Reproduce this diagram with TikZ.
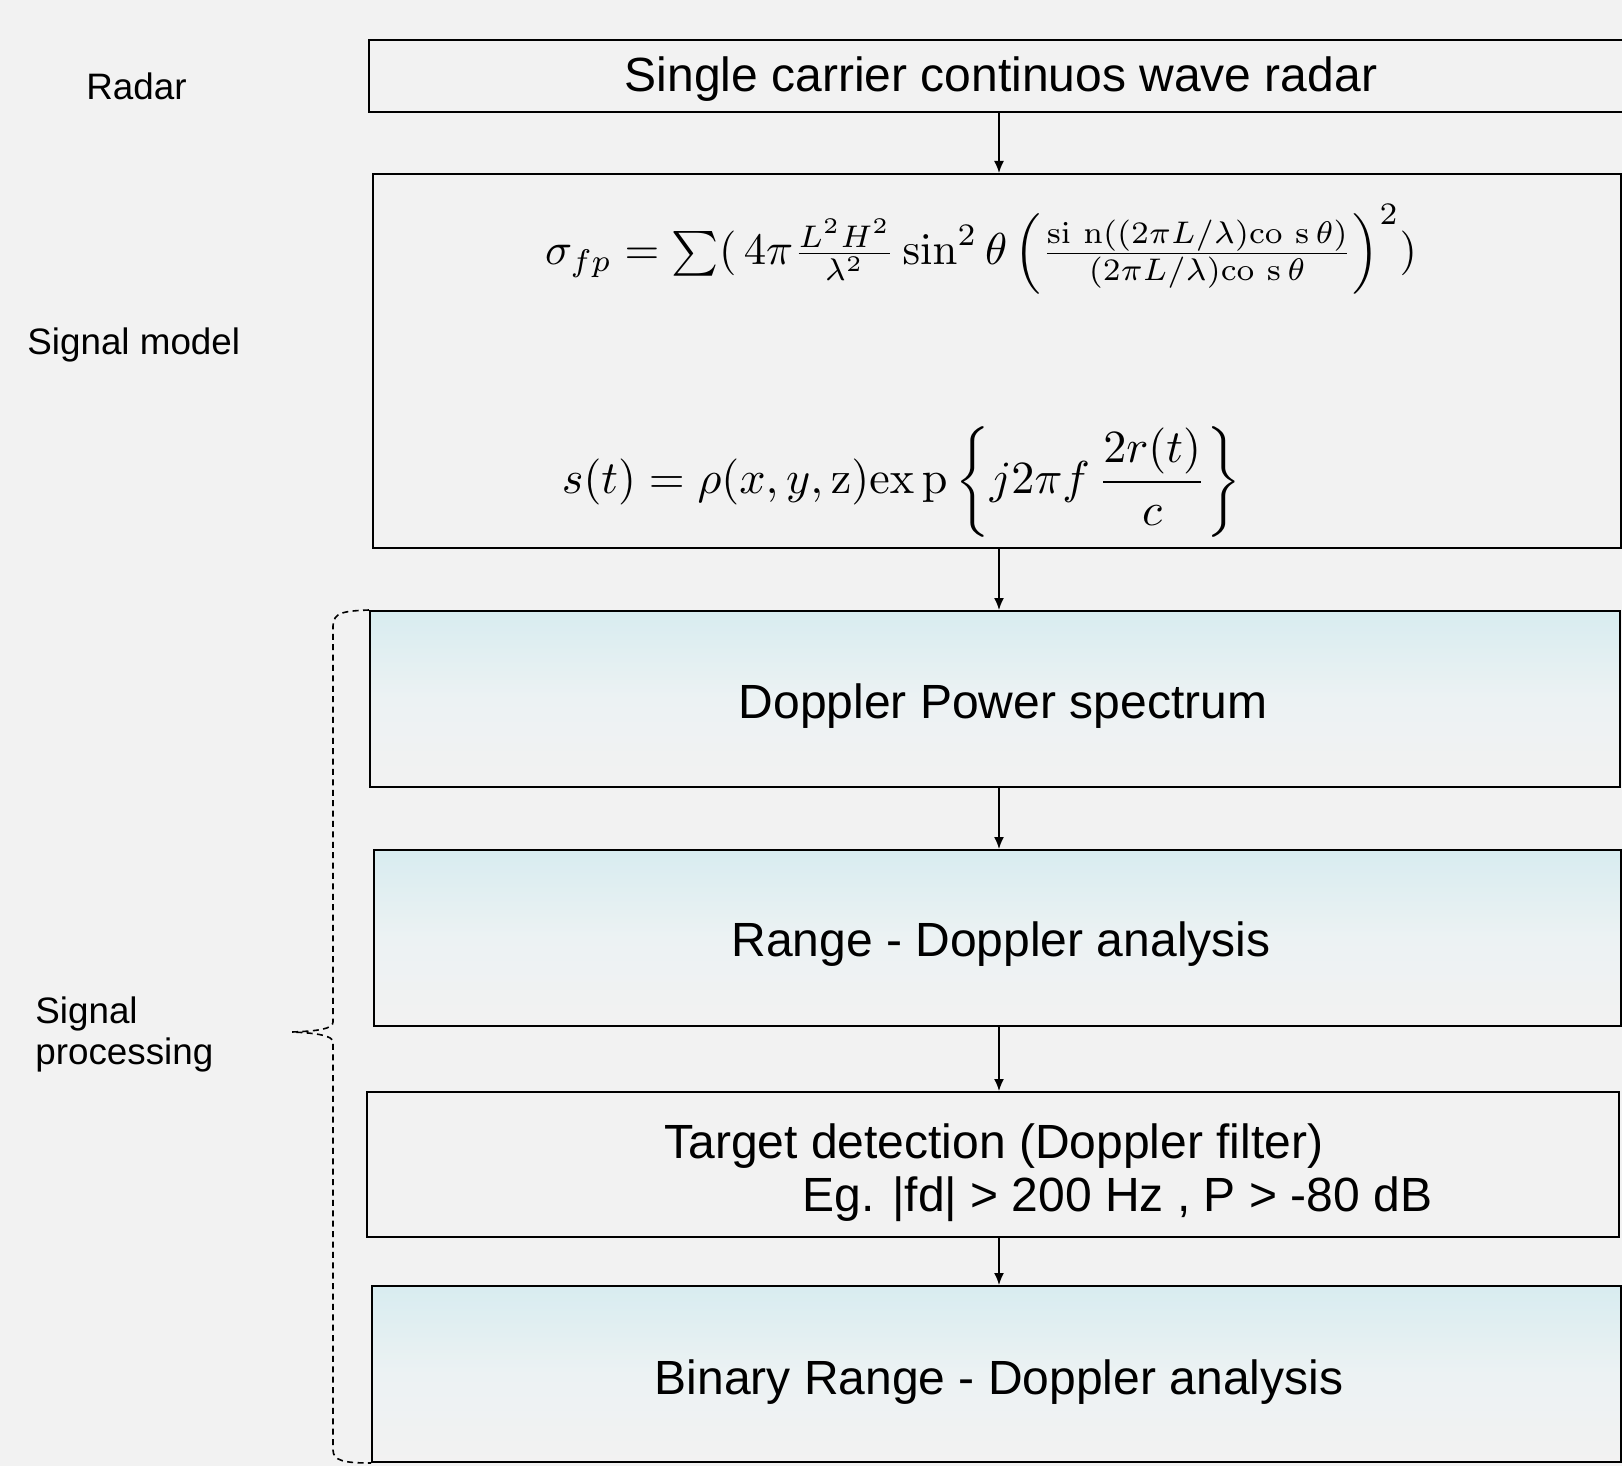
\documentclass[tikz,border=0pt]{standalone}
\usepackage[no-math]{fontspec}
\setmainfont{Liberation Sans}
\usepackage{graphicx}
\usetikzlibrary{arrows.meta}
\definecolor{bgc}{RGB}{242,242,242}
\definecolor{topc}{RGB}{216,236,240}
\definecolor{midc}{RGB}{236,242,243}
\tikzset{
  plainbox/.style={draw=black, line width=1pt, fill=bgc, inner sep=0pt},
  gradbox/.style={draw=black, line width=1pt, inner sep=0pt, top color=topc, bottom color=bgc, middle color=midc},
  boxtext/.style={font=\fontsize{24}{28}\selectfont, inner sep=0pt},
  sidetext/.style={font=\fontsize{18.4}{20.5}\selectfont, inner sep=0pt, align=left},
  arr/.style={line width=0.8pt, -{Latex[length=6pt,width=5pt]}},
  bracepath/.style={line width=0.8pt, dash pattern=on 3pt off 2.2pt}
}
\begin{document}
\begin{tikzpicture}[x=0.5pt,y=-0.5pt]
\useasboundingbox (0,0) rectangle (1622,1466);
\fill[bgc] (0,0) rectangle (1622,1466);
% boxes
\node[plainbox, minimum width=630.5pt, minimum height=36pt] (b1) at (999.5,76) {};
\node[plainbox, minimum width=624pt, minimum height=187pt] (b2) at (997,361) {};
\node[gradbox, minimum width=625pt, minimum height=88pt] (b3) at (995,699) {};
\node[gradbox, minimum width=623.5pt, minimum height=88pt] (b4) at (997.5,938) {};
\node[plainbox, minimum width=626pt, minimum height=72.5pt] (b5) at (993,1164.5) {};
\node[gradbox, minimum width=624.5pt, minimum height=88pt] (b6) at (996.5,1374) {};
% texts
\node[boxtext] (t1) at (1001,79) {Single carrier continuos wave radar};
\node[inner sep=0pt] (f1) at (981,249) {\resizebox{436pt}{!}{$\sigma_{fp} = \sum(\,4\pi\frac{L^2H^2}{\lambda^2}\sin^2\theta\left(\frac{\mathrm{si\ n}((2\pi L/\lambda)\mathrm{co\ s}\,\theta)}{(2\pi L/\lambda)\mathrm{co\ s}\,\theta}\right)^{2})$}};
\node[inner sep=0pt] (f2) at (901.5,482) {\resizebox{339.5pt}{!}{$\displaystyle s(t) = \rho(x,y,\mathrm{z})\mathrm{ex\,p}\left\{j2\pi f\,\frac{2r(t)}{c}\right\}$}};
\node[boxtext] (t3) at (1003,706) {Doppler Power spectrum};
\node[boxtext] (t4) at (1001,944) {Range - Doppler analysis};
\node[boxtext, align=left, font=\fontsize{24}{26.5}\selectfont, anchor=west] (t5) at (664,1173) {Target detection (Doppler filter)\\\hspace*{69pt}Eg. |fd| > 200 Hz , P > -80 dB};
\node[boxtext] (t6) at (999,1382) {Binary Range - Doppler analysis};
% side labels
\node[sidetext, anchor=west] (s1) at (86,86) {Radar};
\node[sidetext, anchor=west] (s2) at (27,345) {Signal model};
\node[sidetext, anchor=west] (s3) at (35,1034) {Signal\\processing};
% arrows
\coordinate (ax) at (999,0);
\draw[arr] (b1.south -| ax) -- (b2.north -| ax);
\draw[arr] (b2.south -| ax) -- (b3.north -| ax);
\draw[arr] (b3.south -| ax) -- (b4.north -| ax);
\draw[arr] (b4.south -| ax) -- (b5.north -| ax);
\draw[arr] (b5.south -| ax) -- (b6.north -| ax);
% brace
\coordinate (bt) at (b3.north west);
\coordinate (bb) at (b6.south west);
\coordinate (tip) at (292,1032);
\draw[bracepath] (bt) .. controls (345,611) and (333,612) .. (333,626)
  -- (333,1022) .. controls (333,1029) and (318,1031) .. (tip)
  .. controls (318,1033) and (333,1036) .. (333,1042)
  -- (333,1450) .. controls (333,1461) and (345,1463) .. (bb);
\end{tikzpicture}
\end{document}
